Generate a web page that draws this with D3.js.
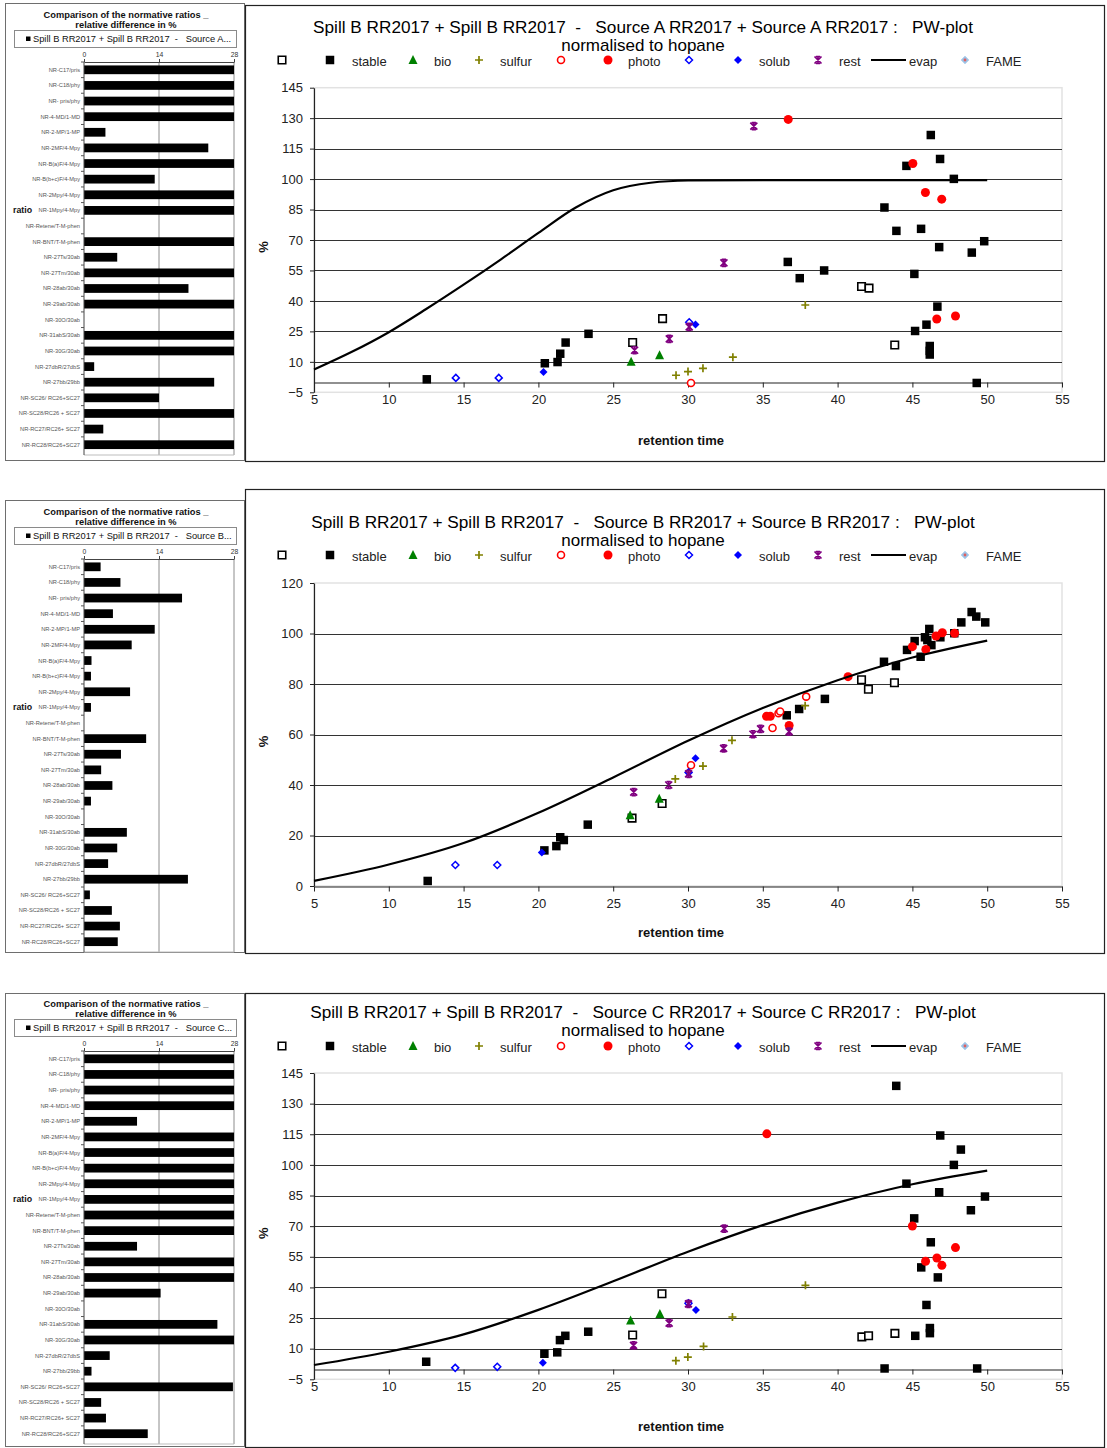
<!DOCTYPE html>
<html>
<head>
<meta charset="utf-8">
<script src="https://cdn.jsdelivr.net/npm/d3@7"></script>
<style>
  body { margin: 0; background: #fff; }
  svg text { font-family: "Liberation Sans", Arial, sans-serif; white-space: pre; }
</style>
</head>
<body>
<svg id="chart" width="1107" height="1448"></svg>
<script>
// ---------- normative ratio bar charts ----------
const categories = ["NR-C17/pris","NR-C18/phy","NR- pris/phy","NR-4-MD/1-MD","NR-2-MP/1-MP","NR-2MF/4-Mpy",
  "NR-B(a)F/4-Mpy","NR-B(b+c)F/4-Mpy","NR-2Mpy/4-Mpy","NR-1Mpy/4-Mpy","NR-Retene/T-M-phen","NR-BNT/T-M-phen",
  "NR-27Ts/30ab","NR-27Tm/30ab","NR-28ab/30ab","NR-29ab/30ab","NR-30O/30ab","NR-31abS/30ab","NR-30G/30ab",
  "NR-27dbR/27dbS","NR-27bb/29bb","NR-SC26/ RC26+SC27","NR-SC28/RC26 + SC27","NR-RC27/RC26+ SC27","NR-RC28/RC26+SC27"];
const diffA = [28,28,28,28,4.0,23.2,28,13.2,28,28,0,28,6.2,28,19.5,28,0,28,28,1.9,24.3,14.0,28,3.6,28];
const diffB = [3.1,6.8,18.3,5.4,13.2,8.9,1.4,1.3,8.6,1.3,0,11.6,6.9,3.2,5.3,1.3,0,8.0,6.2,4.5,19.4,1.1,5.2,6.7,6.3];
const diffC = [28,28,28,28,9.9,28,28,28,28,28,28,28,9.9,28,28,14.3,0,24.9,28,4.8,1.4,27.8,3.2,4.1,11.9];
const diffTicks = [0, 14, 28];

// ---------- PW-plot axes ----------
const rtTicks = [5,10,15,20,25,30,35,40,45,50,55];
const pctTicksAC = [-5,10,25,40,55,70,85,100,115,130,145];
const pctTicksB = [0,20,40,60,80,100,120];
const legendNames = ["", "stable", "bio", "sulfur", "", "photo", "", "solub", "rest", "evap", "FAME"];

// ---------- Source A ----------
const openSqA = [[26.3,19.5],[28.3,31.3],[41.6,47.1],[42.1,46.3],[43.82,18.3]];
const stableA = [[12.54,1.4],[20.43,9.3],[21.28,9.9],[21.46,14.0],[21.82,19.5],[23.35,23.8],[36.67,59.2],[37.47,51.2],
  [39.1,55.0],[43.13,86.0],[43.93,74.5],[44.6,106.5],[45.13,53.3],[45.18,25.2],[45.58,75.5],[45.94,28.3],
  [46.16,17.8],[46.16,15.4],[46.16,13.6],[46.23,121.7],[46.67,37.2],[46.79,66.5],[46.85,109.9],[47.77,100.1],
  [48.97,63.8],[49.3,-0.4],[49.8,69.4]];
const bioA = [[26.2,10.1],[28.1,13.3]];
const sulfurA = [[29.2,3.4],[30.0,5.2],[31.0,6.8],[33.0,12.3],[37.84,38.0]];
const openCircA = [[30.2,-0.4]];
const photoA = [[36.7,129.4],[45.03,107.7],[45.87,93.4],[46.63,31.1],[46.96,90.1],[47.88,32.6]];
const openDiaA = [[14.48,2.1],[17.35,2.1],[30.08,29.5]];
const solubA = [[20.34,5.0],[30.5,28.4]];
const restA = [[26.43,15.7],[28.75,21.3],[30.08,27.2],[32.4,58.7],[34.4,126.1]];
const evapA = [[5,6.2],[7.5,14.8],[10,24.6],[12.5,36],[15,48],[17.5,60.5],[20,73.5],[22.5,86],[25,94.5],[27.5,98.2],
  [30,99.3],[35,99.5],[40,99.5],[45,99.5],[50,99.5]];

// ---------- Source B ----------
const openSqB = [[26.26,26.9],[28.27,32.7],[41.6,81.7],[42.06,77.9],[43.8,80.5]];
const stableB = [[12.6,2.0],[20.4,14.1],[21.2,15.8],[21.46,19.3],[21.7,18.2],[23.3,24.3],[36.6,67.6],[37.43,70.1],
  [39.15,74.1],[43.1,88.8],[43.9,87.1],[44.64,93.5],[45.15,97.0],[45.55,90.8],[45.84,98.5],[46.0,97.4],
  [46.13,101.8],[46.27,95.4],[46.87,98.5],[47.8,100.1],[48.27,104.4],[48.96,108.5],[49.27,106.7],[49.87,104.4]];
const bioB = [[26.13,28.0],[28.08,34.6]];
const sulfurB = [[29.15,42.4],[31.0,47.5],[32.94,57.7],[37.83,71.4]];
const openCircB = [[30.2,47.8],[35.65,62.6],[36.05,68.4],[36.16,69.1],[37.9,75.0]];
const photoB = [[35.25,67.2],[35.5,67.2],[36.76,63.6],[40.7,82.9],[45.0,94.8],[45.9,93.7],[46.58,99.0],[47.0,100.3],[47.82,100.1]];
const openDiaB = [[14.45,8.3],[17.25,8.3],[30.04,45.0]];
const solubB = [[20.23,13.3],[30.5,50.6]];
const restB = [[26.37,37.2],[28.71,40.0],[30.04,44.4],[32.38,54.5],[34.34,60.1],[34.85,62.2],[36.76,61.1]];
const evapB = [[5,2],[10,8.5],[15,17],[20,29],[25,43],[30,57.5],[35,70.5],[40,81.5],[45,90.5],[50,97.2]];

// ---------- Source C ----------
const openSqC = [[26.3,16.7],[28.26,36.9],[41.62,15.8],[42.07,16.3],[43.83,17.5]];
const stableC = [[12.5,3.6],[20.4,7.5],[21.26,8.2],[21.44,14.2],[21.8,16.3],[23.33,18.3],[43.14,0.3],[43.92,138.7],
  [44.6,90.8],[45.12,73.8],[45.19,16.3],[45.59,49.8],[45.94,31.4],[46.17,20.1],[46.17,17.6],[46.23,62.1],
  [46.7,44.9],[46.79,86.6],[46.86,114.4],[47.77,100.0],[48.24,107.5],[48.91,77.8],[49.33,0.3],[49.85,84.5]];
const bioC = [[26.16,23.8],[28.12,27.0]];
const sulfurC = [[29.19,4.1],[29.99,5.9],[31.04,11.1],[32.97,25.5],[37.85,41.0]];
const openCircC = [];
const photoC = [[35.27,115.2],[45.0,70.1],[45.88,52.8],[46.64,54.4],[46.97,50.8],[47.88,59.5]];
const openDiaC = [[14.44,0.6],[17.25,1.1],[30.03,32.2]];
const solubC = [[20.3,3.1],[30.53,28.9]];
const restC = [[26.36,11.6],[28.74,22.5],[30.03,31.9],[32.42,68.8]];
const evapC = evapB;

// ---------- marker shapes ----------
const shapes = {
  square: s => `M${-s/2},${-s/2}h${s}v${s}h${-s}Z`,
  triangle: s => `M0,${-s*0.55}L${s/2},${s*0.45}L${-s/2},${s*0.45}Z`,
  diamond: s => `M0,${-s/2}L${s/2},0L0,${s/2}L${-s/2},0Z`,
  plus: s => `M${-s/2},0H${s/2}M0,${-s/2}V${s/2}`,
  star: s => { const h = s/2; return `M${-h},${-h}L${h},${h}M${h},${-h}L${-h},${h}M0,${-h}V${h}M${-h*0.6},${-h}H${h*0.6}M${-h*0.6},${h}H${h*0.6}`; },
  circle: s => { const r = s/2; return `M${r},0A${r},${r} 0 1,1 ${-r},0A${r},${r} 0 1,1 ${r},0Z`; }
};
const styles = [
  {key:"openSq",   shape:"square",   size:7.5, fill:"#fff",    stroke:"#000",    sw:1.6},
  {key:"stable",   shape:"square",   size:8.5, fill:"#000",    stroke:"none",    sw:0},
  {key:"bio",      shape:"triangle", size:9,   fill:"#008000", stroke:"none",    sw:0},
  {key:"sulfur",   shape:"plus",     size:8,   fill:"none",    stroke:"#808000", sw:1.7},
  {key:"openCirc", shape:"circle",   size:7,   fill:"#fff",    stroke:"#ff0000", sw:1.6},
  {key:"photo",    shape:"circle",   size:9,   fill:"#ff0000", stroke:"none",    sw:0},
  {key:"openDia",  shape:"diamond",  size:7,   fill:"#fff",    stroke:"#0000ff", sw:1.5},
  {key:"solub",    shape:"diamond",  size:8,   fill:"#0000ff", stroke:"none",    sw:0},
  {key:"rest",     shape:"star",     size:7,   fill:"none",    stroke:"#800080", sw:1.7},
  {key:"evap",     line:true},
  {key:"fame",     shape:"diamond",  size:8,   fill:"#9dc3e6", stroke:"#b4d2ee", sw:0.8}
];

const panels = [
  { src:"Source A", leftTop:3, leftH:457, rightTop:5, rightH:456, lb:0,
    title:27, sub:47, legend:60, yRange:[392.3,87.7], yDomain:[-5,145], yTicks:pctTicksAC, xTitle:440,
    diff:diffA,
    series:{openSq:openSqA, stable:stableA, bio:bioA, sulfur:sulfurA, openCirc:openCircA, photo:photoA,
            openDia:openDiaA, solub:solubA, rest:restA, evap:evapA, fame:[]} },
  { src:"Source B", leftTop:500, leftH:452, rightTop:489, rightH:464, lb:497,
    title:522, sub:542, legend:555, yRange:[886,583], yDomain:[0,120], yTicks:pctTicksB, xTitle:932,
    diff:diffB,
    series:{openSq:openSqB, stable:stableB, bio:bioB, sulfur:sulfurB, openCirc:openCircB, photo:photoB,
            openDia:openDiaB, solub:solubB, rest:restB, evap:evapB, fame:[]} },
  { src:"Source C", leftTop:993, leftH:453, rightTop:993, rightH:454, lb:989,
    title:1012, sub:1032, legend:1046, yRange:[1379.3,1073], yDomain:[-5,145], yTicks:pctTicksAC, xTitle:1426,
    diff:diffC,
    series:{openSq:openSqC, stable:stableC, bio:bioC, sulfur:sulfurC, openCirc:openCircC, photo:photoC,
            openDia:openDiaC, solub:solubC, rest:restC, evap:evapC, fame:[]} }
];

const svg = d3.select("#chart");
const legendMarkX = [282, 330, 413, 479, 561, 608, 689, 738, 818, 888, 965];
const legendTextX = [0, 352, 434, 500, 0, 628, 0, 759, 839, 909, 986];

function drawMarker(g, st, x, y) {
  if (st.key === "fame") {
    g.append("path").attr("transform", `translate(${x},${y})`).attr("d", shapes.diamond(st.size))
      .attr("fill", st.fill).attr("stroke", st.stroke).attr("stroke-width", st.sw);
    g.append("circle").attr("cx", x).attr("cy", y).attr("r", 1.4).attr("fill", "#e06060");
    return;
  }
  g.append("path").attr("transform", `translate(${x},${y})`).attr("d", shapes[st.shape](st.size))
    .attr("fill", st.fill).attr("stroke", st.stroke).attr("stroke-width", st.sw);
}

panels.forEach(p => {
  // ===== left: bar chart of relative differences =====
  const L = svg.append("g");
  const lb = p.lb;
  L.append("rect").attr("x", 5.5).attr("y", p.leftTop + 0.5).attr("width", 239).attr("height", p.leftH)
    .attr("fill", "#fff").attr("stroke", "#6e6e6e").attr("stroke-width", 1);
  L.append("text").attr("x", 126).attr("y", 15 + lb).attr("dy", "0.35em").attr("text-anchor", "middle")
    .attr("font-size", 9.3).attr("font-weight", "bold").attr("fill", "#111").text("Comparison of the normative ratios _");
  L.append("text").attr("x", 126).attr("y", 24.5 + lb).attr("dy", "0.35em").attr("text-anchor", "middle")
    .attr("font-size", 9.3).attr("font-weight", "bold").attr("fill", "#111").text("relative difference in %");
  L.append("rect").attr("x", 14.5).attr("y", 30.5 + lb).attr("width", 222).attr("height", 17)
    .attr("fill", "#fff").attr("stroke", "#8a8a8a");
  L.append("rect").attr("x", 26).attr("y", 36.5 + lb).attr("width", 4.5).attr("height", 4.5).attr("fill", "#000");
  L.append("text").attr("x", 33).attr("y", 39 + lb).attr("dy", "0.35em").attr("font-size", 9.3).attr("fill", "#111")
    .text("Spill B RR2017 + Spill B RR2017  -   " + p.src + "...");

  const lx = d3.scaleLinear().domain([0, 28]).range([84, 234]);
  const ly = d3.scaleBand().domain(categories).range([62 + lb, 452.5 + lb]).paddingInner(0.44).paddingOuter(0.22);
  const plotBottom = 455 + lb;
  // plot frame and gridline at 14
  L.append("line").attr("x1", lx(14)).attr("x2", lx(14)).attr("y1", 62 + lb).attr("y2", plotBottom)
    .attr("stroke", "#8c8c8c").attr("stroke-width", 1);
  L.append("line").attr("x1", lx(28)).attr("x2", lx(28)).attr("y1", 62 + lb).attr("y2", plotBottom)
    .attr("stroke", "#8c8c8c").attr("stroke-width", 1);
  L.append("line").attr("x1", lx(0)).attr("x2", lx(28)).attr("y1", plotBottom).attr("y2", plotBottom)
    .attr("stroke", "#bdbdbd").attr("stroke-width", 1);
  // bars
  L.selectAll(".bar").data(categories).enter().append("rect")
    .attr("x", lx(0)).attr("y", d => ly(d))
    .attr("width", (d, i) => lx(Math.min(p.diff[i], 28)) - lx(0))
    .attr("height", ly.bandwidth()).attr("fill", "#000");
  // top axis
  const topAxis = d3.axisTop(lx).tickValues(diffTicks).tickSize(3).tickSizeOuter(0).tickPadding(2);
  const ta = L.append("g").attr("transform", `translate(0,${62 + lb})`).call(topAxis);
  ta.select(".domain").attr("stroke", "#444");
  ta.selectAll(".tick line").attr("stroke", "#444");
  ta.selectAll("text").attr("font-size", 6.8).attr("fill", "#333").attr("font-family", '"Liberation Sans", Arial, sans-serif');
  // left axis with category labels
  L.append("line").attr("x1", lx(0)).attr("x2", lx(0)).attr("y1", 62 + lb).attr("y2", plotBottom)
    .attr("stroke", "#444").attr("stroke-width", 1);
  const step = ly.step();
  categories.forEach((c, i) => {
    const yb = ly(c) - ly.paddingInner() * step / 2;
    L.append("line").attr("x1", lx(0) - 3).attr("x2", lx(0)).attr("y1", yb).attr("y2", yb).attr("stroke", "#555");
    L.append("text").attr("x", 80).attr("y", ly(c) + ly.bandwidth() / 2).attr("dy", "0.35em")
      .attr("text-anchor", "end").attr("font-size", 5.7).attr("fill", "#555").text(c);
  });
  L.append("text").attr("x", 13).attr("y", ly("NR-1Mpy/4-Mpy") + ly.bandwidth() / 2).attr("dy", "0.35em")
    .attr("font-size", 8.8).attr("font-weight", "bold").attr("fill", "#111").text("ratio");

  // ===== right: PW-plot =====
  const R = svg.append("g");
  R.append("rect").attr("x", 245.5).attr("y", p.rightTop + 0.5).attr("width", 859).attr("height", p.rightH)
    .attr("fill", "#fff").attr("stroke", "#222").attr("stroke-width", 1.2);
  R.append("text").attr("x", 643).attr("y", p.title).attr("dy", "0.35em").attr("text-anchor", "middle")
    .attr("font-size", 17.2).attr("fill", "#000")
    .text("Spill B RR2017 + Spill B RR2017  -   " + p.src + " RR2017 + " + p.src + " RR2017 :   PW-plot");
  R.append("text").attr("x", 643).attr("y", p.sub - 2).attr("dy", "0.35em").attr("text-anchor", "middle")
    .attr("font-size", 17).attr("fill", "#000").text("normalised to hopane");

  // legend
  styles.forEach((st, i) => {
    const lyv = p.legend;
    if (st.line) {
      R.append("line").attr("x1", 871).attr("x2", 906).attr("y1", lyv).attr("y2", lyv)
        .attr("stroke", "#000").attr("stroke-width", 2.2);
    } else {
      drawMarker(R, st, legendMarkX[i], lyv);
    }
    if (legendNames[i]) {
      R.append("text").attr("x", legendTextX[i]).attr("y", lyv + 1).attr("dy", "0.35em")
        .attr("font-size", 13).attr("fill", "#222").text(legendNames[i]);
    }
  });

  const x = d3.scaleLinear().domain([5, 55]).range([314, 1062]);
  const y = d3.scaleLinear().domain(p.yDomain).range(p.yRange);

  // plot area border
  R.append("rect").attr("x", x(5)).attr("y", y(p.yDomain[1])).attr("width", x(55) - x(5))
    .attr("height", y(p.yDomain[0]) - y(p.yDomain[1])).attr("fill", "none").attr("stroke", "#e2e2e2").attr("stroke-width", 1.5);
  // gridlines
  R.selectAll(".grid").data(p.yTicks.filter(t => t !== p.yDomain[0] && t !== p.yDomain[1])).enter().append("line")
    .attr("x1", x(5)).attr("x2", x(55)).attr("y1", d => Math.round(y(d)) + 0.5).attr("y2", d => Math.round(y(d)) + 0.5)
    .attr("stroke", "#333").attr("stroke-width", 1.1);

  // y axis
  const ya = R.append("g").attr("transform", `translate(${x(5)},0)`)
    .call(d3.axisLeft(y).tickValues(p.yTicks).tickSize(4).tickSizeOuter(0).tickPadding(7));
  ya.select(".domain").attr("stroke", "#222").attr("stroke-width", 1.2);
  ya.selectAll(".tick line").attr("stroke", "#222");
  ya.selectAll("text").attr("font-size", 13).attr("fill", "#222").attr("font-family", '"Liberation Sans", Arial, sans-serif');

  // x axis crossing at 0
  const xa = R.append("g").attr("transform", `translate(0,${Math.round(y(0)) + 0.5})`)
    .call(d3.axisBottom(x).tickValues(rtTicks).tickSize(5).tickSizeOuter(0).tickPadding(7));
  xa.select(".domain").attr("stroke", "#222").attr("stroke-width", 1.2);
  xa.selectAll(".tick line").attr("stroke", "#222");
  xa.selectAll("text").attr("font-size", 13).attr("fill", "#222").attr("font-family", '"Liberation Sans", Arial, sans-serif');

  // axis titles
  R.append("text").attr("x", 681).attr("y", p.xTitle).attr("dy", "0.35em").attr("text-anchor", "middle")
    .attr("font-size", 13).attr("font-weight", "bold").attr("fill", "#111").text("retention time");
  const midY = (p.yRange[0] + p.yRange[1]) / 2 + 7;
  R.append("text").attr("transform", `translate(263,${midY}) rotate(-90)`).attr("dy", "0.35em")
    .attr("text-anchor", "middle").attr("font-size", 13).attr("font-weight", "bold").attr("fill", "#111").text("%");

  // series
  styles.forEach(st => {
    const pts = p.series[st.key];
    if (st.line) {
      const line = d3.line().x(d => x(d[0])).y(d => y(d[1])).curve(d3.curveMonotoneX);
      R.append("path").datum(pts).attr("d", line).attr("fill", "none").attr("stroke", "#000").attr("stroke-width", 2.2);
    } else {
      pts.forEach(d => drawMarker(R, st, x(d[0]), y(d[1])));
    }
  });
});
</script>
</body>
</html>
